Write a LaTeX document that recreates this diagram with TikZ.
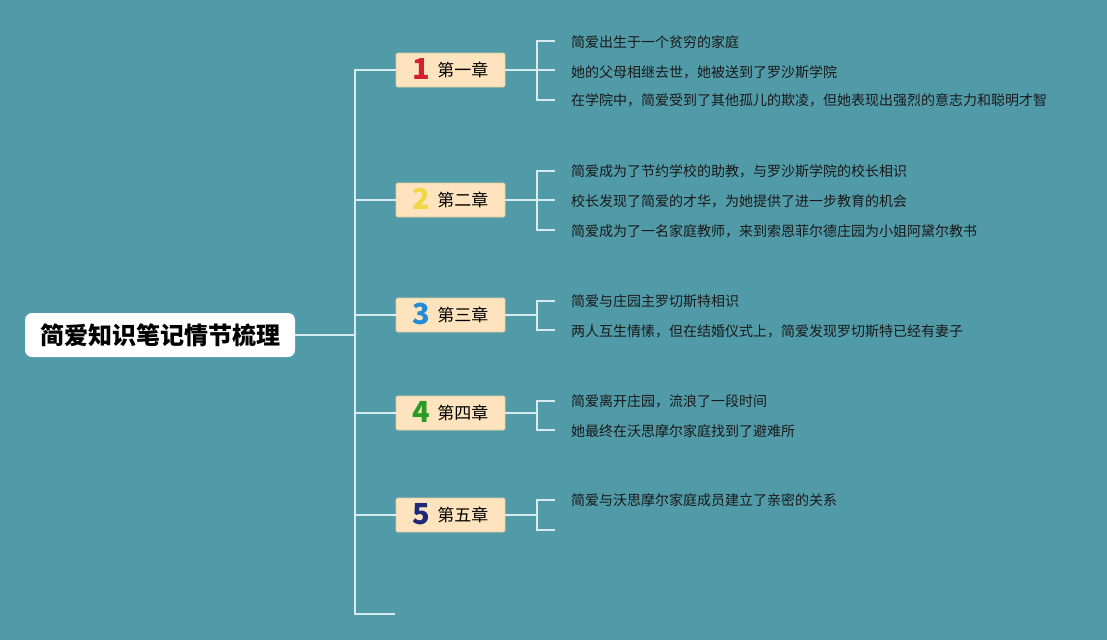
\documentclass[tikz,border=0pt]{standalone}
\usepackage{fontspec}
\newfontfamily\cjk{Noto Sans CJK SC}
\definecolor{bgteal}{RGB}{81,155,168}
\definecolor{linec}{RGB}{214,236,241}
\definecolor{boxfill}{RGB}{253,228,190}
\definecolor{boxline}{RGB}{226,204,160}
\definecolor{numred}{RGB}{214,30,45}
\definecolor{numyel}{RGB}{242,214,70}
\definecolor{numblue}{RGB}{36,140,214}
\definecolor{numgreen}{RGB}{40,155,40}
\definecolor{numnavy}{RGB}{30,40,120}
\definecolor{leaftext}{RGB}{25,25,25}
\tikzset{
  rootbox/.style={draw=none, fill=white, rounded corners=7pt, minimum width=270pt, minimum height=44pt, inner sep=0pt, font=\cjk\bfseries\fontsize{24}{24}\selectfont, text=black},
  chapbox/.style={draw=boxline, line width=0.8pt, fill=boxfill, rounded corners=1.5pt, minimum width=109pt, minimum height=34pt, inner sep=0pt, text height=12pt, text depth=0pt, font=\cjk\fontsize{17}{17}\selectfont, text=black},
  leaf/.style={anchor=west, inner sep=0pt, font=\cjk\fontsize{14}{14}\selectfont, text=leaftext},
  conn/.style={draw=linec, line width=1.6pt},
}
\newcommand{\chapnum}[2]{\smash{\raisebox{-3pt}{\fontsize{29}{29}\selectfont\bfseries\textcolor{#1}{#2}}}\hspace{7pt}}
\begin{document}
\begin{tikzpicture}[x=1pt,y=-1pt]
\fill[bgteal] (0,0) rectangle (1107,640);
\useasboundingbox (0,0) rectangle (1107,640);

\node[rootbox] (root) at (160,335) {简爱知识笔记情节梳理};
\coordinate (trunk) at (355,335);

\node[chapbox] (c1) at (450.5,70) {\chapnum{numred}{1}第一章};
\node[chapbox] (c2) at (450.5,200) {\chapnum{numyel}{2}第二章};
\node[chapbox] (c3) at (450.5,315) {\chapnum{numblue}{3}第三章};
\node[chapbox] (c4) at (450.5,413) {\chapnum{numgreen}{4}第四章};
\node[chapbox] (c5) at (450.5,515) {\chapnum{numnavy}{5}第五章};
\coordinate (c6) at (395,614);

\draw[conn] (root.east) -- (trunk);
\draw[conn] (trunk) |- (c1.west);
\draw[conn] (trunk) |- (c2.west);
\draw[conn] (trunk) |- (c3.west);
\draw[conn] (trunk) |- (c4.west);
\draw[conn] (trunk) |- (c5.west);
\draw[conn] (trunk) |- (c6);

% brackets
\coordinate (b1) at (537,70);
\coordinate (b2) at (537,200);
\coordinate (b3) at (537,315);
\coordinate (b4) at (537,413);
\coordinate (b5) at (537,515);

% chapter 1
\node[leaf] (l11) at (571,42) {简爱出生于一个贫穷的家庭};
\node[leaf] (l12) at (571,72) {她的父母相继去世，她被送到了罗沙斯学院};
\node[leaf] (l13) at (571,100) {在学院中，简爱受到了其他孤儿的欺凌，但她表现出强烈的意志力和聪明才智};
\coordinate (t11) at (555,41);
\coordinate (t12) at (555,70);
\coordinate (t13) at (555,100);
\draw[conn] (c1.east) -- (b1);
\draw[conn] (b1) |- (t11);
\draw[conn] (b1) |- (t12);
\draw[conn] (b1) |- (t13);

% chapter 2
\node[leaf] (l21) at (571,171) {简爱成为了节约学校的助教，与罗沙斯学院的校长相识};
\node[leaf] (l22) at (571,201) {校长发现了简爱的才华，为她提供了进一步教育的机会};
\node[leaf] (l23) at (571,231) {简爱成为了一名家庭教师，来到索恩菲尔德庄园为小姐阿黛尔教书};
\coordinate (t21) at (555,171);
\coordinate (t22) at (555,200);
\coordinate (t23) at (555,230);
\draw[conn] (c2.east) -- (b2);
\draw[conn] (b2) |- (t21);
\draw[conn] (b2) |- (t22);
\draw[conn] (b2) |- (t23);

% chapter 3
\node[leaf] (l31) at (571,301) {简爱与庄园主罗切斯特相识};
\node[leaf] (l32) at (571,331) {两人互生情愫，但在结婚仪式上，简爱发现罗切斯特已经有妻子};
\coordinate (t31) at (555,301);
\coordinate (t32) at (555,330);
\draw[conn] (c3.east) -- (b3);
\draw[conn] (b3) |- (t31);
\draw[conn] (b3) |- (t32);

% chapter 4
\node[leaf] (l41) at (571,401) {简爱离开庄园，流浪了一段时间};
\node[leaf] (l42) at (571,431) {她最终在沃思摩尔家庭找到了避难所};
\coordinate (t41) at (555,401);
\coordinate (t42) at (555,430);
\draw[conn] (c4.east) -- (b4);
\draw[conn] (b4) |- (t41);
\draw[conn] (b4) |- (t42);

% chapter 5
\node[leaf] (l51) at (571,500) {简爱与沃思摩尔家庭成员建立了亲密的关系};
\coordinate (t51) at (555,500);
\coordinate (t52) at (555,530);
\draw[conn] (c5.east) -- (b5);
\draw[conn] (b5) |- (t51);
\draw[conn] (b5) |- (t52);
\end{tikzpicture}
\end{document}
